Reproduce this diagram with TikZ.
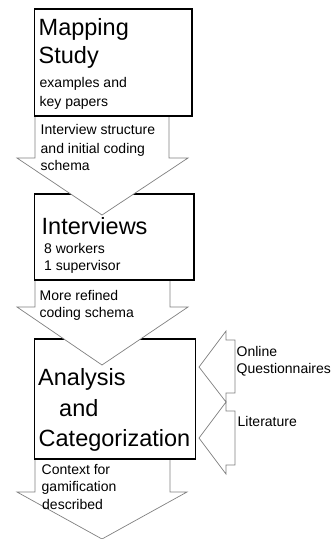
\documentclass[tikz,border=0pt]{standalone}
\usepackage{fontspec}
\setmainfont{Liberation Sans}
\usetikzlibrary{positioning}

\tikzset{
    stagebox/.style={draw=black, line width=1.8pt, outer sep=0pt, inner sep=0pt},
    flowarrow/.style={draw=black!50, fill=white, line width=0.7pt, line join=miter},
    inputarrow/.style={draw=black!50, fill=white, line width=0.7pt, line join=miter},
    titletext/.style={anchor=base west, inner sep=0pt, font=\fontsize{23.5}{28}\selectfont},
    notetext/.style={anchor=base west, inner sep=0pt, font=\fontsize{14}{18}\selectfont},
}

\begin{document}
\begin{tikzpicture}[x=1pt, y=-1pt]
    \useasboundingbox (0,0) rectangle (331,539);

    % Stage boxes
    \node[stagebox, minimum width=157.5pt, minimum height=107.3pt] (mapping) at (113.3,62.4) {};
    \node[stagebox, minimum width=159.5pt, minimum height=86pt] (interviews) at (114.3,237) {};
    \node[stagebox, minimum width=161pt, minimum height=120.3pt] (analysis) at (115,398.9) {};

    % Block arrows down the middle (top edge hidden under the box)
    \filldraw[flowarrow] (35,117) -- (35,158) -- (17,158) -- (102,215) -- (188,158) -- (169,158) -- (169,117);
    \filldraw[flowarrow] (35,281) -- (35,307) -- (17,307) -- (102,365) -- (188,307) -- (170,307) -- (170,281);
    \filldraw[flowarrow] (35,460) -- (35,492) -- (17,492) -- (102,539) -- (187,492) -- (170,492) -- (170,460);

    % Inputs to the analysis, from the right
    \filldraw[inputarrow] (199,367) -- (226,331) -- (226,340) -- (235,340) -- (235,393) -- (226,393) -- (226,402) -- cycle;
    \filldraw[inputarrow] (199,438) -- (226,402) -- (226,411) -- (235,411) -- (235,465) -- (226,465) -- (226,474) -- cycle;

    % Labels in the boxes
    \node[titletext] (maptitle1) at (38.5,35) {Mapping};
    \node[titletext] (maptitle2) at (38.5,63.3) {Study};
    \node[notetext] (mapnote1) at (39.5,87.3) {examples and};
    \node[notetext] (mapnote2) at (39.5,106.7) {key papers};

    \node[titletext] (inttitle) at (41.5,234.3) {Interviews};
    \node[notetext] (intnote1) at (44,253.3) {8 workers};
    \node[notetext] (intnote2) at (44,270.7) {1 supervisor};

    \node[titletext] (antitle1) at (38,385) {Analysis};
    \node[titletext] (antitle2) at (59,416) {and};
    \node[titletext] (antitle3) at (38.5,446) {Categorization};

    % Labels on the arrows
    \node[notetext] (outmap1) at (40.5,134.3) {Interview structure};
    \node[notetext] (outmap2) at (40.5,153.3) {and initial coding};
    \node[notetext] (outmap3) at (40.5,170.7) {schema};

    \node[notetext] (outint1) at (39.5,300) {More refined};
    \node[notetext] (outint2) at (39.5,317.7) {coding schema};

    \node[notetext] (outan1) at (41.5,474) {Context for};
    \node[notetext] (outan2) at (41.5,491.7) {gamification};
    \node[notetext] (outan3) at (42,509) {described};

    \node[notetext] (online1) at (236.5,356.7) {Online};
    \node[notetext] (online2) at (236.5,373.3) {Questionnaires};
    \node[notetext] (literature) at (237.5,426.7) {Literature};
\end{tikzpicture}
\end{document}
